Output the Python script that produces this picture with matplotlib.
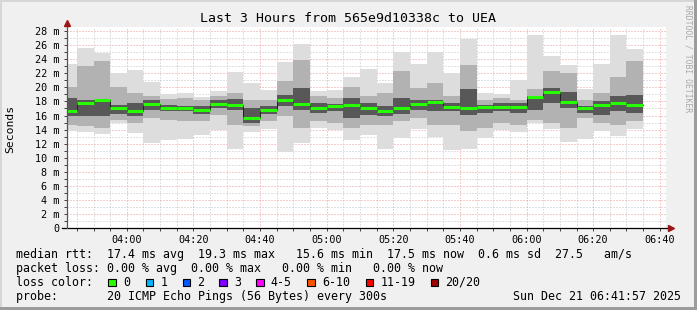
import matplotlib
matplotlib.use("Agg")
import matplotlib.pyplot as plt
from matplotlib.patches import Rectangle

MONO = "DejaVu Sans Mono"

#------- data (ms), one 5 minute slot per entry, first slot starts 03:40
ping_max = [23.3, 25.6, 24.9, 22.1, 22.45, 20.8, 19.05, 19.2, 18.6, 19.5,
            22.2, 20.65, 19.6, 23.6, 26.2, 19.5, 19.6, 21.45, 22.6, 20.65,
            24.95, 23.3, 25.05, 22.1, 26.9, 19.15, 19.0, 21.0, 27.4, 24.45,
            23.1, 19.75, 23.3, 27.4, 25.4]
ping_mid_hi = [20.0, 23.0, 23.8, 20.1, 19.2, 18.7, 18.4, 18.5, 18.2, 18.7,
               19.2, 18.2, 18.2, 20.85, 23.9, 18.7, 18.5, 20.0, 18.7, 19.2,
               22.3, 19.9, 20.6, 18.7, 23.2, 18.2, 18.5, 18.2, 19.7, 22.3,
               22.0, 18.2, 19.2, 21.4, 23.8]
ping_dark_hi = [18.5, 18.2, 18.2, 17.5, 17.8, 18.2, 17.5, 17.4, 17.3, 18.2,
                18.4, 17.05, 17.3, 18.95, 19.9, 17.8, 17.6, 18.5, 17.8, 17.4,
                18.5, 18.2, 18.2, 17.8, 19.7, 17.5, 17.8, 17.8, 18.7, 19.9,
                19.4, 17.3, 18.0, 18.7, 18.95]
median = [16.7, 17.8, 18.15, 17.0, 16.7, 17.7, 17.1, 17.1, 16.8, 17.7,
          17.5, 15.7, 16.8, 18.15, 17.7, 17.1, 17.35, 17.5, 17.0, 16.65,
          17.0, 17.6, 17.95, 17.25, 17.0, 17.25, 17.25, 17.25, 18.65, 19.4,
          17.95, 17.1, 17.5, 17.8, 17.5]
ping_dark_lo = [16.0, 16.0, 16.0, 16.2, 16.0, 16.8, 16.6, 16.6, 16.2, 17.05,
                16.8, 14.95, 16.2, 17.3, 16.8, 16.35, 16.6, 15.6, 16.1, 16.0,
                16.2, 16.8, 16.6, 16.6, 16.1, 16.35, 16.6, 16.35, 16.8, 17.8,
                17.05, 16.35, 16.1, 16.6, 16.35]
ping_mid_lo = [14.7, 14.45, 14.2, 15.4, 14.9, 15.6, 15.4, 15.2, 15.2, 16.1,
               14.7, 14.45, 15.2, 15.9, 14.2, 15.2, 14.9, 14.2, 14.7, 14.7,
               15.2, 15.6, 14.7, 14.7, 13.75, 14.2, 14.9, 14.7, 15.4, 14.9,
               14.2, 15.6, 14.9, 14.7, 15.2]
ping_min = [13.8, 13.7, 13.35, 15.0, 13.5, 12.1, 12.55, 12.6, 13.3, 13.9,
            11.3, 13.7, 14.1, 10.85, 12.1, 14.2, 14.0, 12.55, 13.3, 11.3,
            12.85, 14.15, 13.0, 11.1, 11.3, 12.85, 14.0, 13.7, 14.95, 14.05,
            12.25, 12.65, 13.8, 13.15, 14.15]

tick_minutes = [0, 20, 40, 60, 80, 100, 120, 140, 160]
tick_labels = ["04:00", "04:20", "04:40", "05:00", "05:20", "05:40", "06:00", "06:20", "06:40"]

loss_labels = ["0", "1", "2", "3", "4-5", "6-10", "11-19", "20/20"]
loss_colors = ["#26ff00", "#00b8ff", "#0059ff", "#7e00ff", "#ff00ff", "#ff5500", "#ff0000", "#a10000"]

line_rtt = "median rtt:  17.4 ms avg  19.3 ms max   15.6 ms min  17.5 ms now  0.6 ms sd  27.5   am/s"
line_loss = "packet loss: 0.00 % avg  0.00 % max   0.00 % min   0.00 % now"
line_probe = "probe:       20 ICMP Echo Pings (56 Bytes) every 300s"
stamp_text = "Sun Dec 21 06:41:57 2025"

#------- figure
W, H = 697, 310
fig = plt.figure(figsize=(W / 100, H / 100), dpi=100, facecolor="#f0f0f0")

x0, x1 = -18.05, 161.95   # minutes after 04:00
ymax = 28.5
ax = fig.add_axes([66.7 / W, (H - 228.3) / H, 599.6 / W, 200.9 / H])
ax.set_facecolor("white")
ax.set_xlim(x0, x1)
ax.set_ylim(0, ymax)

starts = [-20 + 5 * i for i in range(len(median))]

ax.bar(starts, [a - b for a, b in zip(ping_max, ping_min)], bottom=ping_min,
       width=5, align="edge", color="#dddddd", linewidth=0, zorder=1)
ax.bar(starts, [a - b for a, b in zip(ping_mid_hi, ping_mid_lo)], bottom=ping_mid_lo,
       width=5, align="edge", color="#b2b2b2", linewidth=0, zorder=1.1)
ax.bar(starts, [a - b for a, b in zip(ping_dark_hi, ping_dark_lo)], bottom=ping_dark_lo,
       width=5, align="edge", color="#585858", linewidth=0, zorder=1.2)

edges = starts + [starts[-1] + 5]
ax.step(edges, median + [median[-1]], where="post", color="#202020", lw=0.7, zorder=3)
ax.hlines(median, starts, [s + 5 for s in starts], color="#26ff00", lw=2.2, zorder=4)

ax.set_xticks(tick_minutes)
ax.set_xticklabels(tick_labels, fontfamily=MONO, fontsize=7.3)
ax.set_xticks([m for m in range(-15, 165, 5) if m not in tick_minutes], minor=True)
ax.set_yticks(range(0, 29, 2))
ax.set_yticklabels(["0"] + ["%d m" % v for v in range(2, 29, 2)], fontfamily=MONO, fontsize=7.3)
ax.set_yticks(range(1, 29, 2), minor=True)

ax.set_axisbelow(True)
ax.grid(which="major", color="#e89a9a", ls=(0, (1, 2)), lw=0.72)
ax.grid(which="minor", color="#c4c4c4", ls=(0, (1, 2)), lw=0.72)
ax.tick_params(axis="both", which="both", length=2, width=0.7, color="#404040")
ax.tick_params(axis="x", pad=2.5)
ax.tick_params(axis="y", pad=3.4)
for s in ax.spines.values():
    s.set_visible(False)

# axis lines with arrow heads
ax.plot([x0 - 1.5, 163.0], [0, 0], color="black", lw=0.9, clip_on=False, zorder=5)
ax.plot([x0, x0], [0, 29.0], color="#555555", lw=0.9, clip_on=False, zorder=5)
ax.plot([163.3], [0], marker=">", ms=4.5, color="#9a1515", clip_on=False, zorder=6)
ax.plot([x0], [29.1], marker="^", ms=4.5, color="#9a1515", clip_on=False, zorder=6)

#------- overlay in pixel coordinates for texts and frame
ov = fig.add_axes([0, 0, 1, 1], zorder=-1)
ov.set_xlim(0, W)
ov.set_ylim(H, 0)
ov.axis("off")
ov.patch.set_alpha(0)

ov.add_patch(Rectangle((0, 0), W, 2, color="#d6d6d6", lw=0))
ov.add_patch(Rectangle((0, 0), 2, H, color="#d6d6d6", lw=0))
ov.add_patch(Rectangle((0, H - 3), W, 3, color="#9c9c9c", lw=0))
ov.add_patch(Rectangle((W - 3, 0), 3, H, color="#9c9c9c", lw=0))

ov.text(348.5, 19, "Last 3 Hours from 565e9d10338c to UEA", ha="center", va="center",
        fontfamily=MONO, fontsize=9.5)
ov.text(10, 129, "Seconds", rotation=90, ha="center", va="center", fontfamily=MONO, fontsize=8.2)
ov.text(688, 5, "RRDTOOL / TOBI OETIKER", rotation=270, ha="center", va="top",
        fontfamily=MONO, fontsize=5.8, color="#a8a8a8")

fs = 8.4
ov.text(16, 254.3, line_rtt, ha="left", va="center", fontfamily=MONO, fontsize=fs)
ov.text(16, 268.3, line_loss, ha="left", va="center", fontfamily=MONO, fontsize=fs)

ov.text(16, 282.3, "loss color:", ha="left", va="center", fontfamily=MONO, fontsize=fs)
box_x = [108.3, 145.7, 182.7, 219.3, 256, 307.3, 365.7, 430.7]
for x, lab, c in zip(box_x, loss_labels, loss_colors):
    ov.add_patch(Rectangle((x, 278.8), 7.6, 7.6, facecolor=c, edgecolor="black", lw=0.8))
    ov.text(x + 14.7, 282.3, lab, ha="left", va="center", fontfamily=MONO, fontsize=fs)

ov.text(16, 296.3, line_probe, ha="left", va="center", fontfamily=MONO, fontsize=fs)
ov.text(513.3, 296.3, stamp_text, ha="left", va="center", fontfamily=MONO, fontsize=fs)

fig.savefig("out.png", dpi=100, facecolor=fig.get_facecolor())
